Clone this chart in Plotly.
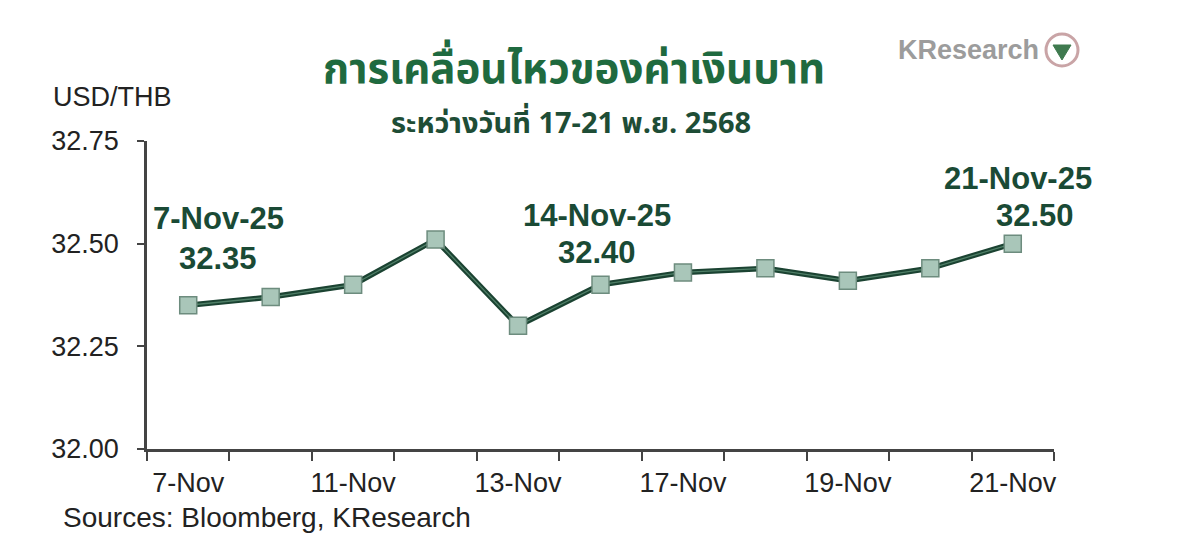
import plotly.graph_objects as go

# ---- data ----
dates = ["7-Nov", "10-Nov", "11-Nov", "12-Nov", "13-Nov", "14-Nov",
         "17-Nov", "18-Nov", "19-Nov", "20-Nov", "21-Nov"]
usd_thb = [32.35, 32.37, 32.40, 32.51, 32.30, 32.40, 32.43, 32.44, 32.41, 32.44, 32.50]
ytick_vals = [32.00, 32.25, 32.50, 32.75]
ytick_text = ["32.00", "32.25", "32.50", "32.75"]
xlabel_idx = [0, 2, 4, 6, 8, 10]

title_text = "การเคลื่อนไหวของค่าเงินบาท"
subtitle_text = "ระหว่างวันที่ 17-21 พ.ย. 2568"
source_text = "Sources: Bloomberg, KResearch"
callouts = [
    (0, "7-Nov-25", "32.35"),
    (5, "14-Nov-25", "32.40"),
    (10, "21-Nov-25", "32.50"),
]

x = list(range(len(dates)))

# page -> paper coordinate helpers (plot area spans x 147..1054, y 141..449 on the page)
PL, PW, PB, PH = 147, 907, 449, 308
def px(v):
    return (v - PL) / PW
def py(v):
    return (PB - v) / PH

fig = go.Figure()
fig.add_trace(go.Scatter(
    x=x, y=usd_thb, mode="lines",
    line=dict(color="#1b4332", width=5.5),
    hoverinfo="skip", showlegend=False))
fig.add_trace(go.Scatter(
    x=x, y=usd_thb, mode="lines+markers",
    line=dict(color="#4f7f67", width=1.3),
    marker=dict(symbol="square", size=17, color="#a9c6b9",
                line=dict(color="#6d8c7e", width=1.5)),
    showlegend=False))

font_main = "Liberation Sans, Arial, sans-serif"
font_thai = "Noto Sans Thai, Noto Sans, sans-serif"

fig.update_layout(
    width=1200, height=555,
    margin=dict(l=139, r=154, t=133, b=114),
    paper_bgcolor="white", plot_bgcolor="white",
    font=dict(family=font_main, size=27, color="#222222"),
    xaxis=dict(
        range=[-0.5, len(dates) - 0.5],
        tickmode="array",
        tickvals=xlabel_idx,
        ticktext=[dates[i] for i in xlabel_idx],
        ticks="", showgrid=False, zeroline=False,
        showline=True, linecolor="#444444", linewidth=2.5,
        tickfont=dict(size=27, color="#222222"),
        minor=dict(ticks="outside", tick0=-0.5, dtick=1, ticklen=9,
                   tickcolor="#444444", tickwidth=2, showgrid=False),
        ticklabelstandoff=8,
    ),
    yaxis=dict(
        range=[32.0, 32.75],
        tickmode="array",
        tickvals=ytick_vals, ticktext=ytick_text,
        ticks="outside", ticklen=7, tickcolor="#444444", tickwidth=2,
        showgrid=False, zeroline=False,
        showline=True, linecolor="#444444", linewidth=2.5,
        tickfont=dict(size=27, color="#222222"),
        ticklabelstandoff=13,
    ),
)

ann = []
ann.append(dict(text="<b>" + title_text + "</b>", xref="paper", yref="paper",
                x=px(574), y=py(70), xanchor="center", yanchor="middle",
                showarrow=False, font=dict(size=42, color="#1f6a3f", family=font_thai)))
ann.append(dict(text="<b>" + subtitle_text + "</b>", xref="paper", yref="paper",
                x=px(571), y=py(124), xanchor="center", yanchor="middle",
                showarrow=False, font=dict(size=29, color="#1e4d36", family=font_thai)))
ann.append(dict(text="USD/THB", xref="paper", yref="paper",
                x=px(51), y=py(97), xanchor="left", yanchor="middle",
                showarrow=False, font=dict(size=27, color="#222222")))
ann.append(dict(text=source_text, xref="paper", yref="paper",
                x=px(61), y=py(517), xanchor="left", yanchor="middle",
                showarrow=False, font=dict(size=28, color="#222222")))
# logo
ann.append(dict(text="<b>KResearch</b>", xref="paper", yref="paper",
                x=px(1041), y=py(50), xanchor="right", yanchor="middle",
                showarrow=False, font=dict(size=27, color="#9c9c9c")))

# callouts
offsets = {0: (218, 218, 258), 5: (597, 215, 252), 10: (1018, 178, 215)}
for idx, line1, line2 in callouts:
    cx, y1, y2 = offsets[idx]
    ann.append(dict(text="<b>" + line1 + "</b>", xref="paper", yref="paper",
                    x=px(cx), y=py(y1), xanchor="center", yanchor="middle",
                    showarrow=False, font=dict(size=31, color="#1a4a35")))
    x2 = cx if idx != 10 else 1035
    ann.append(dict(text="<b>" + line2 + "</b>", xref="paper", yref="paper",
                    x=px(x2), y=py(y2), xanchor="center", yanchor="middle",
                    showarrow=False, font=dict(size=31, color="#1a4a35")))

fig.update_layout(annotations=ann)

# logo circle
fig.add_shape(type="circle", xref="paper", yref="paper",
              x0=px(1046), x1=px(1078), y0=py(66), y1=py(34),
              line=dict(color="#c9a4a6", width=3), fillcolor="white")
fig.add_shape(type="path", xref="paper", yref="paper",
              path="M {a},{b} L {c},{d} L {e},{f} Z".format(
                  a=px(1053), b=py(45), c=px(1071), d=py(45), e=px(1062), f=py(60)),
              line=dict(color="#3f7a4f", width=1), fillcolor="#3f7a4f")

fig.write_html("out.html")
